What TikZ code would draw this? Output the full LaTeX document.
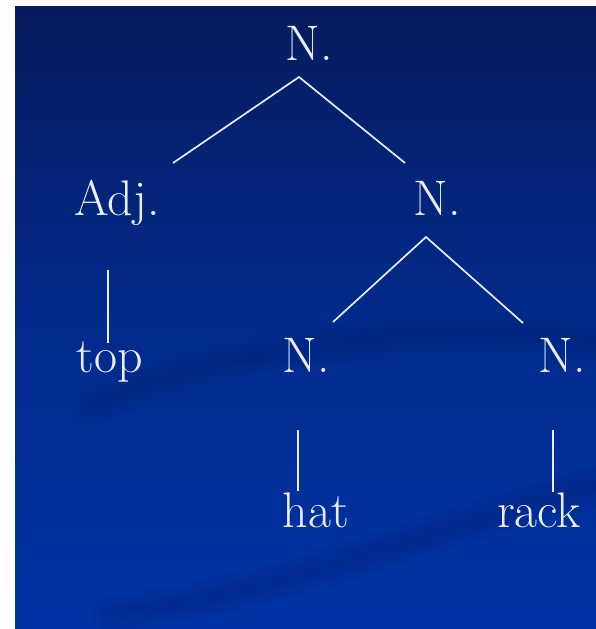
\documentclass[tikz,border=0pt]{standalone}
\definecolor{bgtop}{RGB}{8,27,94}
\definecolor{bgmid}{RGB}{2,42,140}
\definecolor{bgbot}{RGB}{0,52,165}
\definecolor{swoosh}{RGB}{0,25,100}
\definecolor{ink}{RGB}{232,240,255}
\tikzset{
  word/.style={text=ink, font=\fontsize{50}{50}\selectfont, anchor=base, inner sep=0pt},
  branch/.style={draw=ink, line width=1.7pt},
  soft/.style={draw=swoosh, opacity=0.05, line cap=round}
}
\begin{document}
\begin{tikzpicture}[x=1pt,y=-1pt]
\useasboundingbox (0,0) rectangle (596,629);
\fill[white] (0,0) rectangle (596,629);
\shade[top color=bgtop, bottom color=bgbot, middle color=bgmid] (15,6) rectangle (596,629);
% faint blurred swooshes
\begin{scope}
\clip (15,6) rectangle (596,629);
\foreach \w in {40,32,24,16,8} {
  \draw[soft, line width=\w pt] (90,405) .. controls (250,340) and (450,320) .. (620,345);
  \draw[soft, line width=\w pt] (110,615) .. controls (300,590) and (450,520) .. (620,480);
}
\end{scope}
% nodes
\node[word] (n0) at (309,60) {N.};
\node[word] (adj) at (117,215) {Adj.};
\node[word] (n1) at (437,215) {N.};
\node[word] (top) at (110,372) {top};
\node[word] (n2) at (306,372) {N.};
\node[word] (n3) at (562,372) {N.};
\node[word] (hat) at (316,527) {hat};
\node[word] (rack) at (539,527) {rack};
% coordinates for branch ends
\coordinate (a0) at (299,77);
\coordinate (a1) at (173,163);
\coordinate (a2) at (405,163);
\coordinate (b0) at (108,270);
\coordinate (b1) at (108,343);
\coordinate (c0) at (426,237);
\coordinate (c1) at (333,322);
\coordinate (c2) at (523,323);
\coordinate (d0) at (298,430);
\coordinate (d1) at (298,491);
\coordinate (e0) at (553,430);
\coordinate (e1) at (553,492);
\draw[branch] (a1) -- (a0) -- (a2);
\draw[branch] (b0) -- (b1);
\draw[branch] (c1) -- (c0) -- (c2);
\draw[branch] (d0) -- (d1);
\draw[branch] (e0) -- (e1);
\end{tikzpicture}
\end{document}
